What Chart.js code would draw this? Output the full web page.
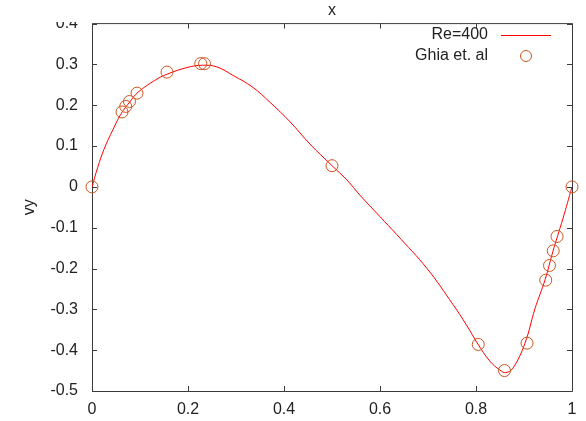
<!DOCTYPE html>
<html>
<head>
<meta charset="utf-8">
<script src="https://cdn.jsdelivr.net/npm/chart.js@4.4.1/dist/chart.umd.min.js"></script>
<style>
  html, body { margin: 0; padding: 0; background: #fff; }
  #wrap { width: 586px; height: 421px; position: relative; }
</style>
</head>
<body>
<div id="wrap"><canvas id="chart" width="586" height="421"></canvas></div>
<script>
// simulation curve, Re=400
const curveX = [0, 0.012, 0.025, 0.044, 0.06, 0.08, 0.096, 0.131, 0.156, 0.2, 0.23, 0.26, 0.294, 0.335, 0.371, 0.413, 0.454, 0.5, 0.531, 0.558, 0.6, 0.635, 0.698, 0.752, 0.78, 0.804, 0.829, 0.85, 0.862, 0.877, 0.902, 0.923, 0.944, 0.96, 0.981, 1.0];
const curveY = [0, 0.048, 0.092, 0.141, 0.178, 0.21, 0.232, 0.261, 0.276, 0.293, 0.298, 0.294, 0.273, 0.244, 0.207, 0.159, 0.105, 0.052, 0.017, -0.02, -0.073, -0.117, -0.2, -0.288, -0.338, -0.385, -0.427, -0.449, -0.455, -0.444, -0.383, -0.298, -0.227, -0.159, -0.078, 0];

// Ghia et al. reference points
const ghiaX = [1.0, 0.9688, 0.9609, 0.9531, 0.9453, 0.9063, 0.8594, 0.8047, 0.5, 0.2344, 0.2266, 0.1563, 0.0938, 0.0781, 0.0703, 0.0625, 0];
const ghiaY = [0, -0.12146, -0.15663, -0.19254, -0.22847, -0.38277, -0.44993, -0.38598, 0.05186, 0.30174, 0.30203, 0.28124, 0.22965, 0.2092, 0.19713, 0.1836, 0];

const xTicks = [0, 0.2, 0.4, 0.6, 0.8, 1];
const yTicks = [-0.5, -0.4, -0.3, -0.2, -0.1, 0, 0.1, 0.2, 0.3, 0.4];

const seriesNames = ['Re=400', 'Ghia et. al'];
const xTitle = 'x';
const yTitle = 'vy';

const FONT = '"Liberation Sans", Arial, sans-serif';
const LINE_COL = '#ff0000';
const MARK_COL = '#c9561e';
const AXIS_COL = '#3a3a3a';

const fmt = v => {
  const r = Math.round(v * 10) / 10;
  return r === 0 ? '0' : String(r);
};

// gnuplot-ish frame: border, inward ticks, custom key, clipped top
const framePlugin = {
  id: 'frame',
  beforeDatasetsDraw(chart) {
    const { ctx, chartArea: a, scales } = chart;
    ctx.save();
    ctx.strokeStyle = AXIS_COL;
    ctx.lineWidth = 1;
    ctx.beginPath();
    ctx.moveTo(a.left + 0.5, a.top);
    ctx.lineTo(a.left + 0.5, a.bottom + 0.5);
    ctx.lineTo(a.right + 0.5, a.bottom + 0.5);
    ctx.lineTo(a.right + 0.5, a.top);
    ctx.lineTo(a.left + 0.5, a.top);
    const len = 5;
    yTicks.forEach(v => {
      const y = Math.round(scales.y.getPixelForValue(v)) + 0.5;
      ctx.moveTo(a.left, y); ctx.lineTo(a.left + len, y);
      ctx.moveTo(a.right, y); ctx.lineTo(a.right - len, y);
    });
    xTicks.forEach(v => {
      const x = Math.round(scales.x.getPixelForValue(v)) + 0.5;
      ctx.moveTo(x, a.bottom); ctx.lineTo(x, a.bottom - len);
      ctx.moveTo(x, a.top); ctx.lineTo(x, a.top + len);
    });
    ctx.stroke();
    ctx.restore();
  },
  afterDraw(chart) {
    const { ctx, chartArea: a } = chart;
    ctx.save();
    // top of the picture is cut off
    ctx.fillStyle = '#fff';
    ctx.fillRect(0, 0, chart.width, 22);

    ctx.fillStyle = '#222';
    ctx.font = '16px ' + FONT;
    ctx.textAlign = 'center';
    ctx.textBaseline = 'middle';
    ctx.fillText(xTitle, (a.left + a.right) / 2, 11);

    ctx.save();
    ctx.translate(30, (a.top + a.bottom) / 2);
    ctx.rotate(-Math.PI / 2);
    ctx.fillText(yTitle, 0, 0);
    ctx.restore();

    // key
    ctx.textAlign = 'right';
    ctx.fillText(seriesNames[0], 488, 35);
    ctx.fillText(seriesNames[1], 488, 56);
    ctx.strokeStyle = LINE_COL;
    ctx.lineWidth = 1;
    ctx.beginPath();
    ctx.moveTo(501, 35.5); ctx.lineTo(551, 35.5);
    ctx.stroke();
    ctx.strokeStyle = MARK_COL;
    ctx.beginPath();
    ctx.arc(526, 56, 5.5, 0, Math.PI * 2);
    ctx.stroke();
    ctx.restore();
  }
};

const ctx = document.getElementById('chart');

new Chart(ctx, {
  type: 'scatter',
  data: {
    datasets: [
      {
        label: seriesNames[1],
        data: ghiaX.map((x, i) => ({ x: x, y: ghiaY[i] })),
        showLine: false,
        pointStyle: 'circle',
        pointRadius: 6,
        pointBorderWidth: 1,
        pointBorderColor: MARK_COL,
        pointBackgroundColor: 'rgba(0,0,0,0)',
        clip: false,
        order: 0
      },
      {
        label: seriesNames[0],
        data: curveX.map((x, i) => ({ x: x, y: curveY[i] })),
        showLine: true,
        borderColor: LINE_COL,
        borderWidth: 1,
        pointRadius: 0,
        tension: 0.4,
        order: 1
      }
    ]
  },
  options: {
    responsive: false,
    animation: false,
    devicePixelRatio: 1,
    layout: { padding: { top: 21, right: 14, left: 0, bottom: 0 } },
    plugins: {
      legend: { display: false },
      tooltip: { enabled: false }
    },
    scales: {
      x: {
        type: 'linear',
        min: 0,
        max: 1,
        afterBuildTicks: axis => { axis.ticks = xTicks.map(v => ({ value: v })); },
        afterFit: axis => { axis.height = 30; },
        grid: { display: false, drawTicks: false },
        border: { display: false },
        ticks: {
          padding: 9,
          color: '#222',
          font: { family: FONT, size: 16 },
          maxRotation: 0,
          autoSkip: false,
          callback: v => fmt(v)
        }
      },
      y: {
        type: 'linear',
        min: -0.5,
        max: 0.4,
        afterBuildTicks: axis => { axis.ticks = yTicks.map(v => ({ value: v })); },
        afterFit: axis => { axis.width = 92; },
        grid: { display: false, drawTicks: false },
        border: { display: false },
        ticks: {
          padding: 14,
          color: '#222',
          font: { family: FONT, size: 16 },
          autoSkip: false,
          callback: v => fmt(v)
        }
      }
    }
  },
  plugins: [framePlugin]
});
</script>
</body>
</html>
